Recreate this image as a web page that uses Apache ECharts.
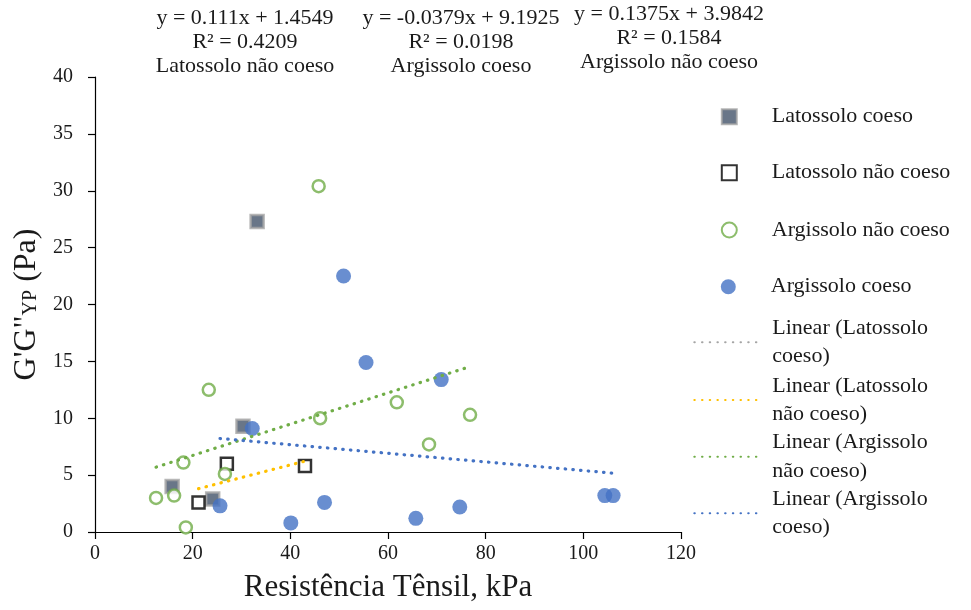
<!DOCTYPE html>
<html>
<head>
<meta charset="utf-8">
<script src="https://cdn.jsdelivr.net/npm/echarts@6/dist/echarts.min.js"></script>
<style>
html,body{margin:0;padding:0;background:#fff;}
#chart{width:971px;height:610px;}
</style>
</head>
<body>
<div id="chart"></div>
<script>
// ---- data ----
const seriesNames = ['Latossolo coeso', 'Latossolo não coeso', 'Argissolo não coeso', 'Argissolo coeso'];
const latCoeso = [[15.8, 4.0], [33.2, 27.3], [30.3, 9.3], [24.1, 2.9]];
const latNaoCoeso = [[21.2, 2.6], [27.0, 6.0], [43.0, 5.8]];
const argNaoCoeso = [[45.8, 30.4], [23.3, 12.5], [46.1, 10.0], [18.1, 6.1], [26.6, 5.1], [12.5, 3.0], [16.2, 3.2], [18.6, 0.4], [61.8, 11.4], [76.8, 10.3], [68.4, 7.7]];
const argCoeso = [[50.9, 22.5], [55.5, 14.9], [32.2, 9.1], [25.6, 2.3], [47.0, 2.6], [40.1, 0.8], [70.9, 13.4], [65.7, 1.2], [74.7, 2.2], [104.4, 3.2], [106.1, 3.2]];
// trend line end points (as drawn in the reference)
const trendLatCoeso = [];
const trendLatNaoCoeso = [[21.2, 3.81], [43.0, 6.23]];
const trendArgNaoCoeso = [[12.5, 5.70], [76.8, 14.54]];
const trendArgCoeso = [[25.6, 8.22], [106.1, 5.17]];
const trendNames = ['Linear (Latossolo coeso)', 'Linear (Latossolo não coeso)', 'Linear (Argissolo não coeso)', 'Linear (Argissolo coeso)'];
const trendLabels = ['Linear (Latossolo\ncoeso)', 'Linear (Latossolo\nnão coeso)', 'Linear (Argissolo\nnão coeso)', 'Linear (Argissolo\ncoeso)'];
const annotations = [
  'y = 0.111x + 1.4549\nR² = 0.4209\nLatossolo não coeso',
  'y = -0.0379x + 9.1925\nR² = 0.0198\nArgissolo coeso',
  'y = 0.1375x + 3.9842\nR² = 0.1584\nArgissolo não coeso'
];
const xTicks = {min: 0, max: 120, interval: 20};
const yTicks = {min: 0, max: 40, interval: 5};

// ---- styling ----
const FONT = '"Liberation Serif", "Times New Roman", serif';
const TXT = '#1a1a1a';
const dot = [0.5, 7.2];

const chart = echarts.init(document.getElementById('chart'), null, {renderer: 'canvas'});

const scatterStyles = [
  {symbol: 'rect', symbolSize: 13, itemStyle: {color: '#44546A', borderColor: '#A5A5A5', borderWidth: 2.5}},
  {symbol: 'rect', symbolSize: 12, itemStyle: {color: '#ffffff', borderColor: '#000000', borderWidth: 2.5}},
  {symbol: 'circle', symbolSize: 12, itemStyle: {color: '#ffffff', borderColor: '#70AD47', borderWidth: 2.5}},
  {symbol: 'circle', symbolSize: 15, itemStyle: {color: '#4472C4'}}
];
const scatterData = [latCoeso, latNaoCoeso, argNaoCoeso, argCoeso];
const trendData = [trendLatCoeso, trendLatNaoCoeso, trendArgNaoCoeso, trendArgCoeso];
const trendColors = ['#A5A5A5', '#FFC000', '#70AD47', '#4472C4'];

const series = [];
seriesNames.forEach((n, i) => {
  series.push(Object.assign({
    name: n, type: 'scatter', data: scatterData[i], z: 2 + i
  }, scatterStyles[i]));
});
trendNames.forEach((n, i) => {
  series.push({
    name: n, type: 'line', data: trendData[i], showSymbol: false, symbol: 'none', z: 10,
    itemStyle: {color: trendColors[i]},
    lineStyle: {color: trendColors[i], width: 3.2, type: dot, cap: 'round'}
  });
});

// legends (one per entry for exact placement)
const legends = [];
const scatterCenters = [116.7, 172.7, 230, 286.7];
seriesNames.forEach((n, i) => {
  legends.push({
    data: [n], orient: 'vertical', left: 720.8, top: scatterCenters[i] - 13, padding: 0,
    itemWidth: 15, itemHeight: 15,
    textStyle: {fontFamily: FONT, fontSize: 22, color: TXT, lineHeight: 26, padding: [0, 0, 0, 30]}
  });
});
const lineCenters = [342.3, 400, 456.7, 513.3];
trendNames.forEach((n, i) => {
  legends.push({
    data: [n], orient: 'vertical', left: 693.3, top: lineCenters[i] - 42.75, padding: 0,
    itemWidth: 66, itemHeight: 14,
    itemStyle: {opacity: 0},
    formatter: () => trendLabels[i],
    textStyle: {fontFamily: FONT, fontSize: 22, color: TXT, lineHeight: 28.5, padding: [28.5, 0, 0, 7]}
  });
});

const annX = [245, 461, 669];
const annY = [6, 6, 2];
const graphics = annotations.map((t, i) => ({
  type: 'text', x: annX[i], y: annY[i],
  style: {text: t, x: 0, y: 0, textAlign: 'center', textVerticalAlign: 'top', fontFamily: FONT, fontSize: 22, lineHeight: 24, fill: TXT}
}));

chart.setOption({
  animation: false,
  backgroundColor: '#ffffff',
  grid: {left: 95, right: 290, top: 77, bottom: 78, containLabel: false},
  xAxis: {
    type: 'value', min: xTicks.min, max: xTicks.max, interval: xTicks.interval,
    name: 'Resistência Tênsil, kPa', nameLocation: 'middle', nameGap: 40,
    nameTextStyle: {fontFamily: FONT, fontSize: 31, color: TXT},
    axisLine: {show: true, onZero: false, lineStyle: {color: '#000', width: 1.2}},
    axisTick: {show: true, inside: false, length: 7, lineStyle: {color: '#000', width: 1.2}},
    axisLabel: {fontFamily: FONT, fontSize: 20, color: TXT, margin: 12},
    splitLine: {show: false}
  },
  yAxis: {
    type: 'value', min: yTicks.min, max: yTicks.max, interval: yTicks.interval,
    name: 'G\'G"{sub|YP} (Pa)', nameLocation: 'middle', nameGap: 48,
    nameTextStyle: {fontFamily: FONT, fontSize: 32, color: TXT, rich: {sub: {fontFamily: FONT, fontSize: 20, color: TXT, padding: [10, 0, 0, 0]}}},
    axisLine: {show: true, onZero: false, lineStyle: {color: '#000', width: 1.2}},
    axisTick: {show: true, inside: false, length: 7, lineStyle: {color: '#000', width: 1.2}},
    axisLabel: {fontFamily: FONT, fontSize: 20, color: TXT, margin: 22},
    splitLine: {show: false}
  },
  legend: legends,
  graphic: graphics,
  series: series
});
</script>
</body>
</html>
